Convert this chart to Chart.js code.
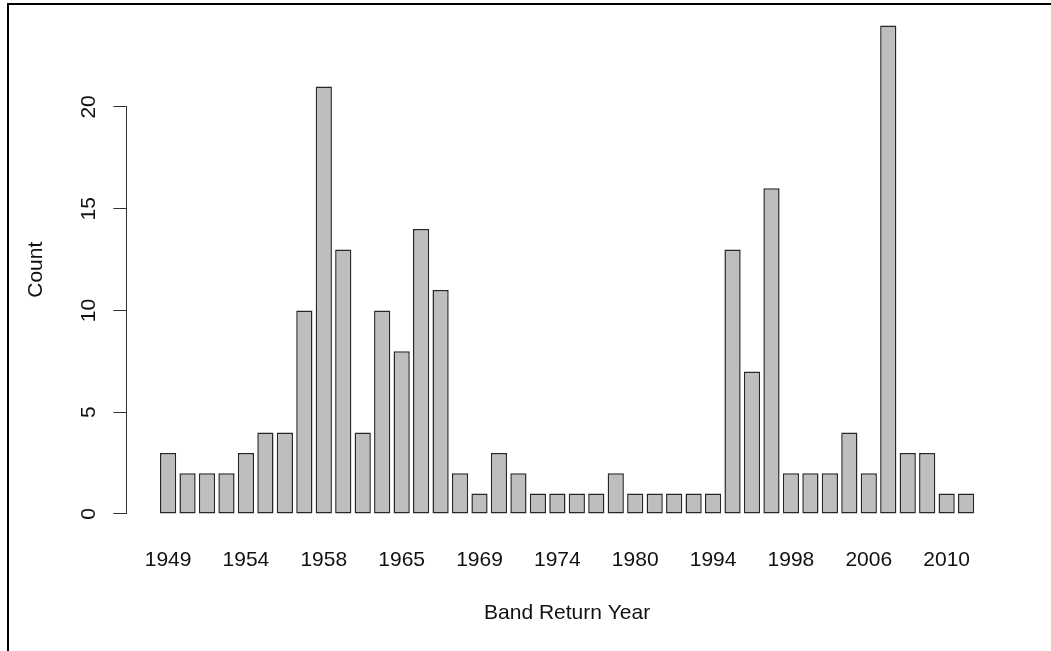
<!DOCTYPE html>
<html>
<head>
<meta charset="utf-8">
<script src="https://cdn.jsdelivr.net/npm/chart.js@4.4.1/dist/chart.umd.min.js"></script>
<style>
  html, body { margin: 0; padding: 0; background: #fff; overflow: hidden; }
  #wrap { position: relative; width: 1051px; height: 651px; }
  #frame { position: absolute; left: 7px; top: 3px; width: 1200px; height: 800px;
           border-left: 2px solid #000; border-top: 2px solid #000; pointer-events: none; }
  canvas { position: absolute; left: 0; top: 0; }
</style>
</head>
<body>
<div id="wrap">
  <canvas id="c" width="1051" height="651"></canvas>
  <div id="frame"></div>
</div>
<script>
// ---- data ----
const years = [1949, 1950, 1951, 1953, 1954, 1955, 1956, 1957, 1958, 1959, 1961, 1963, 1965, 1966,
               1967, 1968, 1969, 1970, 1971, 1973, 1974, 1976, 1977, 1979, 1980, 1983, 1986, 1990,
               1994, 1995, 1996, 1997, 1998, 2000, 2002, 2004, 2006, 2007, 2008, 2009, 2010, 2011];
const counts = [3, 2, 2, 2, 3, 4, 4, 10, 21, 13, 4, 10, 8, 14, 11, 2, 1, 3, 2, 1, 1, 1, 1, 2, 1, 1,
                1, 1, 1, 13, 7, 16, 2, 2, 2, 4, 2, 24, 3, 3, 1, 1];
const xLabelIdx = [0, 4, 8, 12, 16, 20, 24, 28, 32, 36, 40];
const yTicks = [0, 5, 10, 15, 20];
const xTitle = 'Band Return Year';
const yTitle = 'Count';

const FONT = "'Liberation Sans', Arial, sans-serif";
const TXT = '#111';

const partialAxis = {
  id: 'partialAxis',
  afterDraw(chart) {
    const y = chart.scales.y;
    const ctx = chart.ctx;
    const x = Math.round(chart.chartArea.left) - 0.5;
    ctx.save();
    ctx.strokeStyle = '#333';
    ctx.lineWidth = 1;
    ctx.beginPath();
    ctx.moveTo(x, y.getPixelForValue(yTicks[0]));
    ctx.lineTo(x, y.getPixelForValue(yTicks[yTicks.length - 1]));
    ctx.stroke();
    ctx.restore();
  }
};

new Chart(document.getElementById('c'), {
  type: 'bar',
  data: {
    datasets: [{
      data: counts.map((v, i) => ({ x: i, y: v })),
      backgroundColor: '#bebebe',
      borderColor: '#262626',
      borderWidth: 1.5,
      borderSkipped: false,
      barPercentage: 1 / 1.2,
      categoryPercentage: 1
    }]
  },
  options: {
    responsive: false,
    animation: false,
    devicePixelRatio: 1,
    layout: { padding: { left: 0, right: 44.2, top: 6, bottom: 0 } },
    plugins: { legend: { display: false }, tooltip: { enabled: false } },
    scales: {
      x: {
        type: 'linear',
        offset: false,
        min: -2.09,
        max: 43.09,
        afterBuildTicks: (s) => { s.ticks = xLabelIdx.map(v => ({ value: v })); },
        afterFit: (s) => { s.height = 117.5; s.paddingLeft = 0; s.paddingRight = 0; },
        grid: { display: false, drawTicks: false, offset: false },
        border: { display: false },
        ticks: {
          autoSkip: false,
          maxRotation: 0, minRotation: 0,
          padding: 13.9,
          color: TXT,
          font: { family: FONT, size: 21 },
          callback: (v) => years[v]
        },
        title: {
          display: true, text: xTitle, color: TXT,
          font: { family: FONT, size: 21 },
          padding: { top: 0, bottom: 25 }
        }
      },
      y: {
        min: -0.96,
        max: 24.96,
        afterBuildTicks: (s) => { s.ticks = yTicks.map(v => ({ value: v })); },
        afterFit: (s) => { s.width = 127.4; s.paddingTop = 0; s.paddingBottom = 0; },
        grid: { drawOnChartArea: false, drawTicks: true, tickLength: 14, color: '#333', lineWidth: 1 },
        border: { display: false },
        ticks: {
          minRotation: 90, maxRotation: 90,
          crossAlign: 'center',
          padding: 12.7,
          color: TXT,
          font: { family: FONT, size: 21 }
        },
        title: {
          display: true, text: yTitle, color: TXT,
          font: { family: FONT, size: 21 },
          padding: { top: 23.4, bottom: 0 }
        }
      }
    }
  },
  plugins: [partialAxis]
});
</script>
</body>
</html>
